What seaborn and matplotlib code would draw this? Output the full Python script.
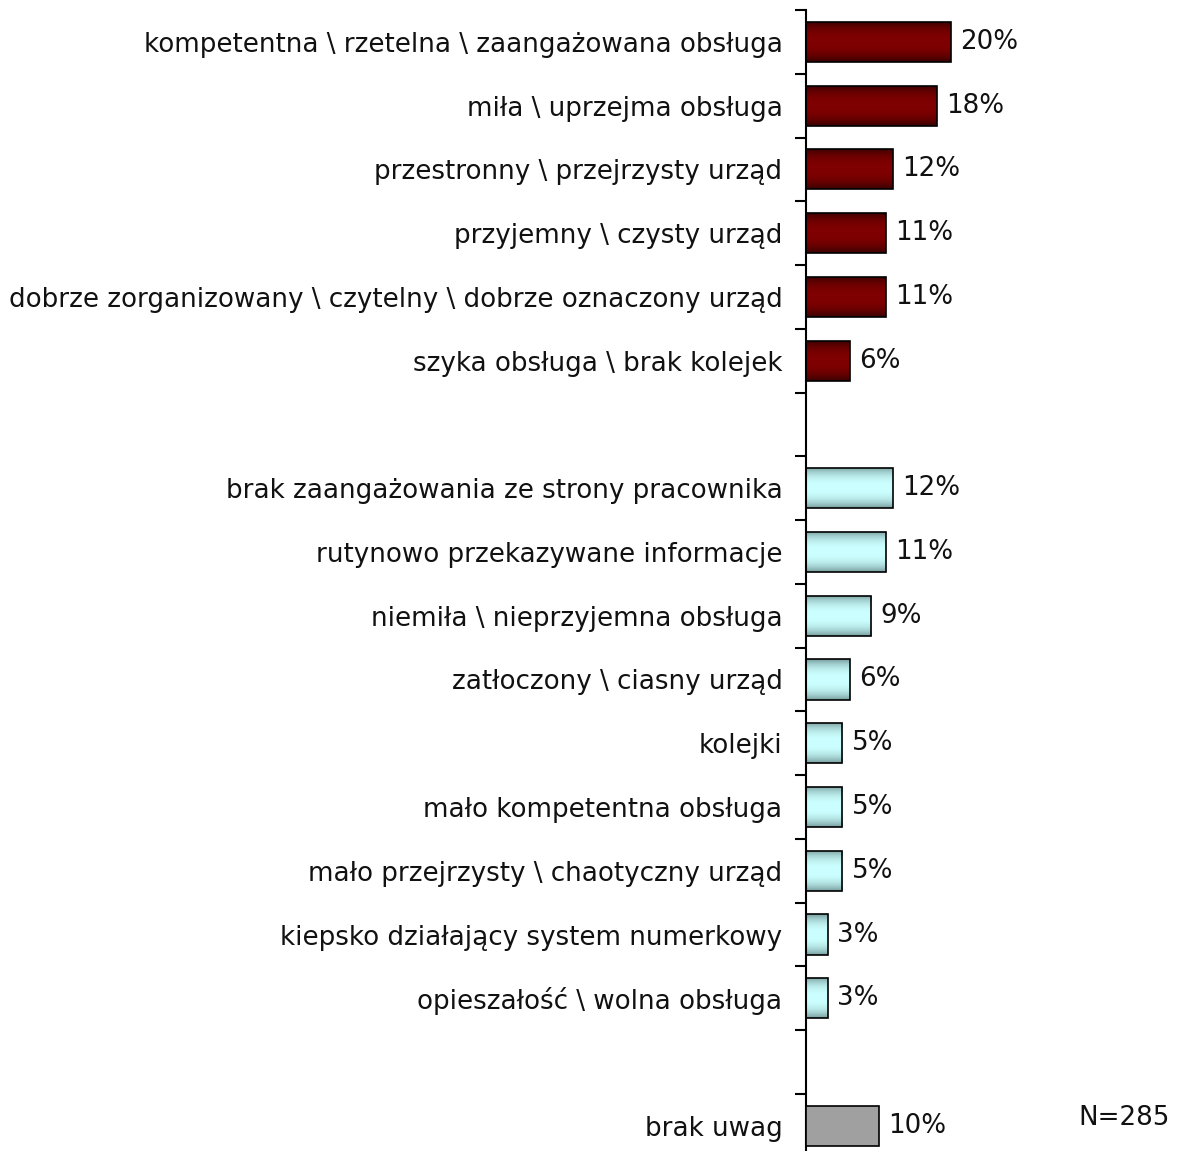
import numpy as np
import pandas as pd
import matplotlib
matplotlib.use("Agg")
import matplotlib.pyplot as plt
import seaborn as sns
from matplotlib.ticker import FixedLocator

sns.set_theme(style="white")
plt.rcParams['font.family'] = ['DejaVu Sans']

positive = [
    "kompetentna \\ rzetelna \\ zaangażowana obsługa",
    "miła \\ uprzejma obsługa",
    "przestronny \\ przejrzysty urząd",
    "przyjemny \\ czysty urząd",
    "dobrze zorganizowany \\ czytelny \\ dobrze oznaczony urząd",
    "szyka obsługa \\ brak kolejek",
]
positive_vals = [20, 18, 12, 11, 11, 6]

negative = [
    "brak zaangażowania ze strony pracownika",
    "rutynowo przekazywane informacje",
    "niemiła \\ nieprzyjemna obsługa",
    "zatłoczony \\ ciasny urząd",
    "kolejki",
    "mało kompetentna obsługa",
    "mało przejrzysty \\ chaotyczny urząd",
    "kiepsko działający system numerkowy",
    "opieszałość \\ wolna obsługa",
]
negative_vals = [12, 11, 9, 6, 5, 5, 5, 3, 3]

none_label = ["brak uwag"]
none_vals = [10]
sample_note = "N=285"

# spacer rows separate the groups
categories = positive + [" "] + negative + ["  "] + none_label
values = positive_vals + [np.nan] + negative_vals + [np.nan] + none_vals
groups = (["pos"] * len(positive) + ["gap"] + ["neg"] * len(negative)
          + ["gap"] + ["none"] * len(none_label))

df = pd.DataFrame({"kategoria": categories, "procent": values, "grupa": groups})

palette = {"pos": "#7a0000", "neg": "#c8ffff", "none": "#a0a0a0", "gap": "#ffffff"}

FS = 18.8
TXT = "#111111"

fig = plt.figure(figsize=(11.78, 11.51), dpi=100)
n = len(categories)
top_px, slot_px = 10, 63.76
H = 1151
ax = fig.add_axes([806 / 1178, 1 - (top_px + n * slot_px) / H,
                   1 - 806 / 1178, n * slot_px / H])

sns.barplot(data=df, y="kategoria", x="procent", hue="grupa", order=categories,
            palette=palette, dodge=False, width=0.63, legend=False,
            edgecolor="black", linewidth=1.2, ax=ax)

ax.set_xlim(0, (1178 - 806) / 7.25)
ax.set_ylim(n - 0.5, -0.5)
ax.set_xlabel("")
ax.set_ylabel("")
ax.xaxis.set_visible(False)
for s in ["top", "right", "bottom"]:
    ax.spines[s].set_visible(False)
ax.spines["left"].set_color("black")
ax.spines["left"].set_linewidth(1.5)

ax.tick_params(axis="y", which="major", length=0, pad=17, labelsize=FS,
               labelcolor=TXT)
ax.yaxis.set_minor_locator(FixedLocator(np.arange(-0.5, n, 1.0)))
ax.tick_params(axis="y", which="minor", length=8, width=1.5, color="black",
               left=True)

# vertical shading inside the bars
gradients = {
    "pos": ((0.22, 0.0, 0.0), (0.50, 0.0, 0.0)),
    "neg": ((0.47, 0.62, 0.62), (0.80, 1.0, 1.0)),
}
s = np.linspace(0, 1, 64)
prof = 1 - np.abs(2 * s - 1) ** 2.5
for patch in ax.patches:
    w = patch.get_width()
    if not np.isfinite(w) or w == 0:
        continue
    x0, y0 = patch.get_x(), patch.get_y()
    h = patch.get_height()
    grp = groups[int(round(y0 + h / 2))]
    if grp in gradients:
        edge, mid = (np.array(c) for c in gradients[grp])
        img = edge[None, :] + (mid - edge)[None, :] * prof[:, None]
        img = img[:, None, :]
        im = ax.imshow(img, extent=(x0, x0 + w, y0 + h, y0), aspect="auto",
                       interpolation="bilinear", zorder=2.5)
        im.set_clip_path(patch)
        patch.set_facecolor("none")
    patch.set_zorder(3)

for i, v in enumerate(values):
    if np.isfinite(v):
        ax.text(v + 1.3, i, f"{v:.0f}%", va="center", ha="left",
                fontsize=FS, color=TXT)

fig.text(1170 / 1178, 1 - 1118 / H, sample_note, fontsize=FS,
         color=TXT, va="center", ha="right")

fig.savefig("out.png", dpi=100)
